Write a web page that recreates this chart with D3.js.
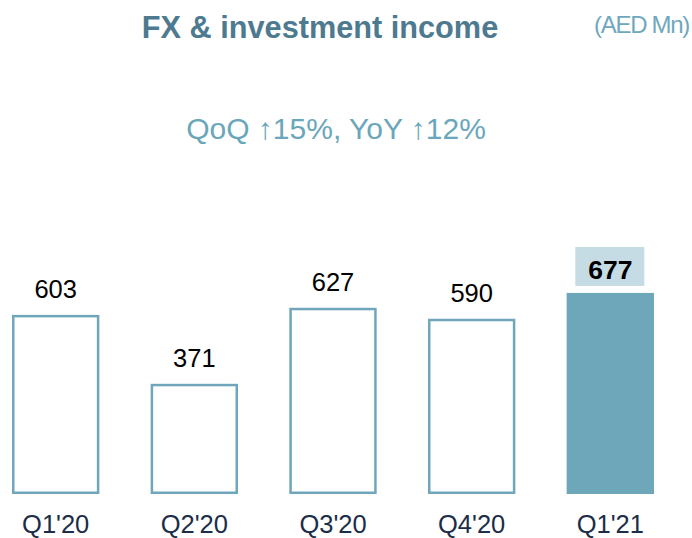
<!DOCTYPE html>
<html><head><meta charset="utf-8">
<script src="https://cdn.jsdelivr.net/npm/d3@7"></script>
<style>body{margin:0;background:#fff}svg{display:block}</style>
</head><body>
<script>
const categories = ["Q1'20","Q2'20","Q3'20","Q4'20","Q1'21"];
const values = [603, 371, 627, 590, 677];
const highlight = [false, false, false, false, true];
const title = "FX & investment income";
const unit = "(AED Mn)";
const subtitle = "QoQ \u219115%, YoY \u219112%";

const W = 692, H = 538;
const svg = d3.select("body").append("svg").attr("width", W).attr("height", H);
const font = "'Liberation Sans', Arial, sans-serif";
const baseY = 494;
const x = d3.scaleBand().domain(categories).range([12, 654]).paddingInner(0.37).paddingOuter(0);
const y = d3.scaleLinear().domain([0, 1000]).range([baseY, baseY - 297]);

svg.append("text").attr("x", 320).attr("y", 38).attr("text-anchor", "middle")
  .attr("font-family", font).attr("font-weight", "bold").attr("font-size", 30.7)
  .attr("fill", "#4e7a90").text(title);
svg.append("text").attr("x", 689).attr("y", 33).attr("text-anchor", "end")
  .attr("font-family", font).attr("font-size", 24).attr("letter-spacing", -1.3)
  .attr("fill", "#6fa8be").text(unit);
svg.append("text").attr("x", 336).attr("y", 139).attr("text-anchor", "middle")
  .attr("font-family", font).attr("font-size", 30)
  .attr("fill", "#6aa7ba").text(subtitle);

const data = categories.map((c, i) => ({c, v: values[i], h: highlight[i]}));

svg.selectAll("rect.bar").data(data).enter().append("rect").attr("class", "bar")
  .attr("x", d => d.h ? x(d.c) : x(d.c) + 1.25)
  .attr("y", d => d.h ? y(d.v) : y(d.v) + 1.25)
  .attr("width", d => d.h ? x.bandwidth() : x.bandwidth() - 2.5)
  .attr("height", d => d.h ? baseY - y(d.v) : baseY - y(d.v) - 2.5)
  .attr("fill", d => d.h ? "#6ea6ba" : "#fff")
  .attr("stroke", d => d.h ? "none" : "#6fa6bb")
  .attr("stroke-width", 2.5);

// highlight label box
data.filter(d => d.h).forEach(d => {
  const cx = x(d.c) + x.bandwidth() / 2;
  svg.append("rect").attr("x", cx - 35).attr("y", y(d.v) - 46).attr("width", 69).attr("height", 39)
    .attr("fill", "#c5dce4");
});

svg.selectAll("text.val").data(data).enter().append("text").attr("class", "val")
  .attr("x", d => x(d.c) + x.bandwidth() / 2)
  .attr("y", d => d.h ? y(d.v) - 14 : y(d.v) - 17)
  .attr("text-anchor", "middle").attr("font-family", font)
  .attr("font-size", d => d.h ? 26.5 : 25.5)
  .attr("font-weight", d => d.h ? "bold" : "normal")
  .attr("fill", "#000").text(d => d.v);

svg.selectAll("text.cat").data(data).enter().append("text").attr("class", "cat")
  .attr("x", d => x(d.c) + x.bandwidth() / 2).attr("y", 533)
  .attr("text-anchor", "middle").attr("font-family", font).attr("font-size", 25.5)
  .attr("fill", "#1b2d48").text(d => d.c);
</script>
</body></html>
